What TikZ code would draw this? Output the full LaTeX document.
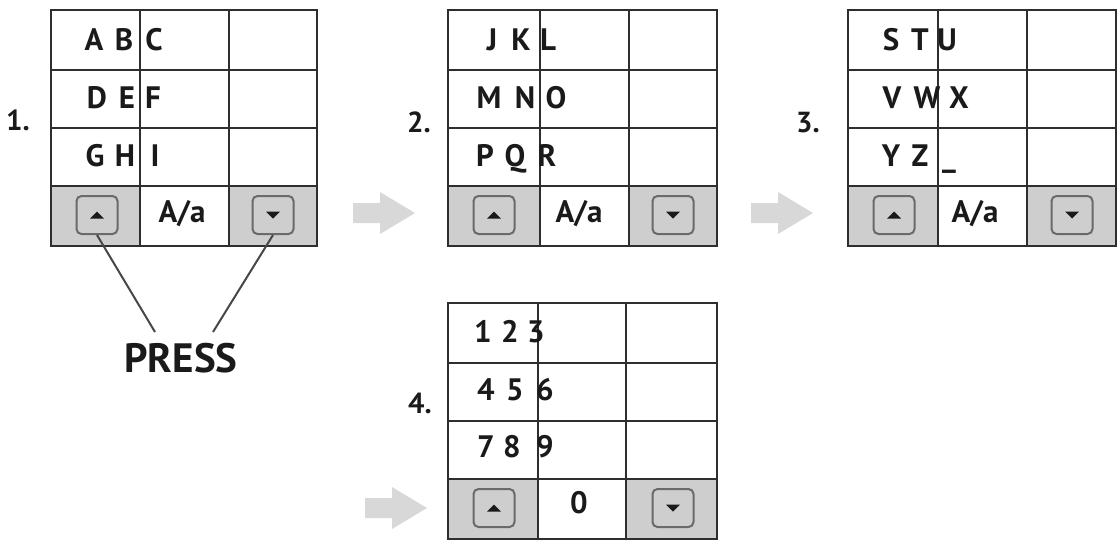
\documentclass[tikz,border=0pt]{standalone}
\usepackage{fontspec}
\setmainfont{PT Sans}
\definecolor{gridc}{HTML}{2E2E2E}
\definecolor{cellgray}{HTML}{CECECE}
\definecolor{btnborder}{HTML}{6A6A6A}
\definecolor{arrowgray}{HTML}{D8D8D8}
\definecolor{linec}{HTML}{474747}
\definecolor{txtc}{HTML}{1A1A1A}
\tikzset{
  gridline/.style={draw=gridc, line width=2.4pt},
  keytxt/.style={font=\bfseries\fontsize{31}{31}\selectfont, inner sep=0pt, text=txtc, anchor=base},
  numlabel/.style={font=\bfseries\fontsize{29}{29}\selectfont, inner sep=0pt, text=txtc, anchor=base},
  presstxt/.style={font=\bfseries\fontsize{41}{41}\selectfont, inner sep=0pt, text=txtc, anchor=base},
  btn/.style={draw=btnborder, fill=cellgray, line width=2pt, rounded corners=5pt,
              minimum width=41pt, minimum height=38pt, inner sep=0pt},
  tri/.style={fill=txtc},
  pointer/.style={draw=linec, line width=2pt},
  grayarrowstyle/.style={fill=arrowgray}
}
% panel: name, left, col1, col2, right, top
\newcommand\kpanel[6]{%
  \fill[cellgray] (#2,{#6+176}) rectangle (#3,{#6+236});
  \fill[cellgray] (#4,{#6+176}) rectangle (#5,{#6+236});
  \draw[gridline] (#2,#6) rectangle (#5,{#6+236});
  \draw[gridline] (#3,#6) -- (#3,{#6+236}) (#4,#6) -- (#4,{#6+236})
     (#2,{#6+60}) -- (#5,{#6+60}) (#2,{#6+118}) -- (#5,{#6+118}) (#2,{#6+176}) -- (#5,{#6+176});
  \node[btn] (#1up) at ({#2+46},{#6+205}) {};
  \node[btn] (#1down) at ({#5-44},{#6+205}) {};
  \fill[tri] ([shift={(-7,3.5)}]#1up.center) -- ++(14,0) -- ++(-7,-7) -- cycle;
  \fill[tri] ([shift={(-7,-3.5)}]#1down.center) -- ++(14,0) -- ++(-7,7) -- cycle;
}
% arrow: tip x, tip y
\newcommand\grayarrow[2]{%
  \fill[grayarrowstyle] ({#1-62},{#2-10}) -- ({#1-35},{#2-10}) -- ({#1-35},{#2-21}) -- (#1,#2)
    -- ({#1-35},{#2+21}) -- ({#1-35},{#2+10}) -- ({#1-62},{#2+10}) -- cycle;
}
\begin{document}
\begin{tikzpicture}[x=1pt,y=-1pt]
\useasboundingbox (0,0) rectangle (1117,542);
\fill[white] (0,0) rectangle (1117,542);

\kpanel{pa}{51}{140}{229}{317}{10}
\kpanel{pb}{448}{540}{629}{717}{10}
\kpanel{pc}{848}{938}{1027}{1116}{10}
\kpanel{pd}{448}{538}{626}{717}{303}

% gray arrows
\grayarrow{415}{213}
\grayarrow{813}{213}
\grayarrow{427}{508}

% step labels
\node[numlabel] (l1) at (18,130) {1.};
\node[numlabel] (l2) at (419,132) {2.};
\node[numlabel] (l3) at (808,132) {3.};
\node[numlabel] (l4) at (420,413) {4.};

% keys
\foreach \t/\x/\y [count=\i] in {
  A/94/50, B/124/50, C/154/50,
  D/97/108, E/127/108, F/153/108,
  G/95/166, H/125/166, I/155/166,
  J/492/50, K/521/50, L/548/50,
  M/489/108, N/525/108, O/556/108,
  P/485/166, Q/515/166, R/547/166,
  S/891/50, T/920/50, U/947/50,
  V/892/108, W/927/108, X/959/108,
  Y/891/166, Z/920/166, \_/949/166,
  1/483/342, 2/510/342, 3/536/342,
  4/486/400, 5/515/400, 6/545/400,
  7/486/457, 8/512/457, 9/545/457,
  0/579/513}
  \node[keytxt] (k\i) at (\x,\y) {\t};

\node[keytxt] (caseA) at (182,222) {A/a};
\node[keytxt] (caseB) at (579,222) {A/a};
\node[keytxt] (caseC) at (975,222) {A/a};

% PRESS
\node[presstxt] (press) at (181,372) {PRESS};
\coordinate (pl) at (155,332);
\coordinate (pr) at (213,332);
\draw[pointer] (paup.south) -- (pl);
\draw[pointer] (padown.south) -- (pr);
\end{tikzpicture}
\end{document}
